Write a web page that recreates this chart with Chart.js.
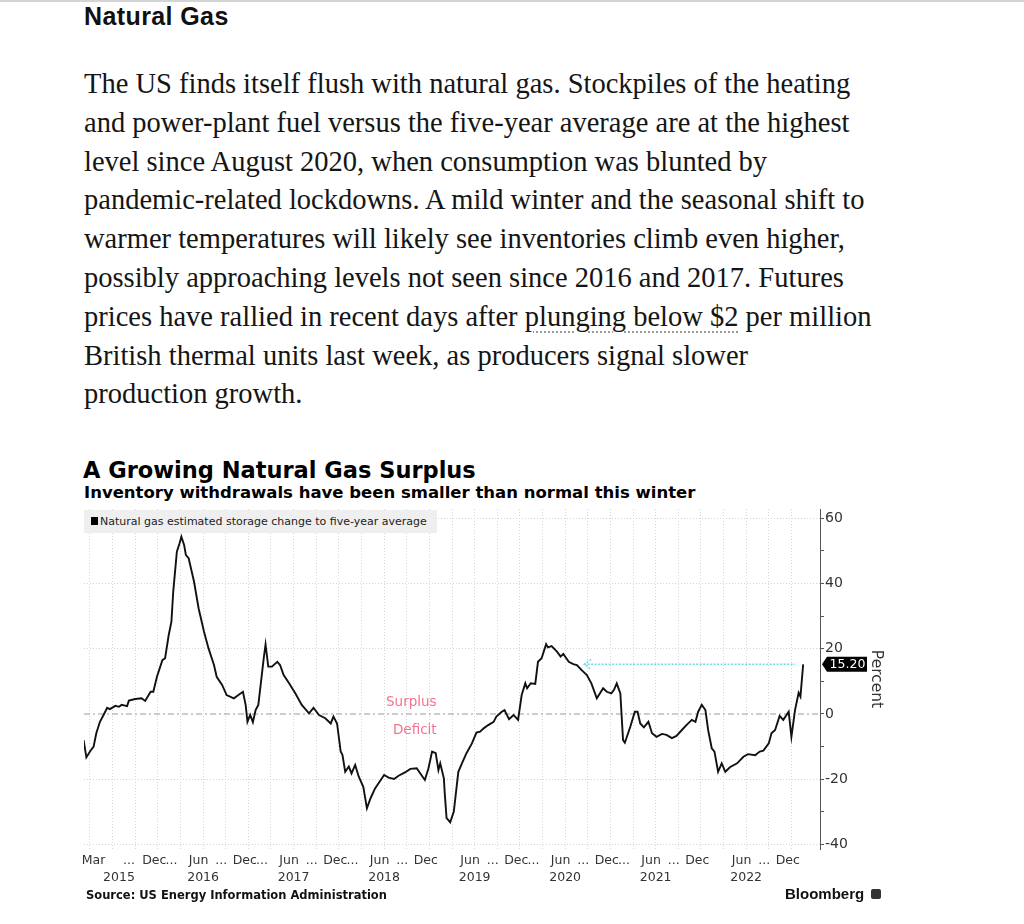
<!DOCTYPE html>
<html>
<head>
<meta charset="utf-8">
<script src="https://cdn.jsdelivr.net/npm/chart.js@4.4.1/dist/chart.umd.min.js"></script>
<style>
  body { margin: 0; background: #fff; }
  #page { position: relative; width: 1024px; height: 924px; overflow: hidden; background: #fff; }
  .abs { position: absolute; white-space: nowrap; }
  #topline { left: 0; top: 0; width: 1024px; height: 2px; background: #d4d4d4; }
  #kicker { left: 84px; top: 1px; font: bold 25px/30px "Liberation Sans", Arial, sans-serif; letter-spacing: 0.4px; color: #111; }
  #para { left: 84px; top: 65px; font: 28.5px/38.8px "Liberation Serif", serif; color: #151515; }
  #para .link { text-decoration: underline dotted #9a9a9a; text-decoration-thickness: 1.5px; text-underline-offset: 6px; }
  #ctitle { left: 83px; top: 457px; font: bold 22.5px/26px "DejaVu Sans", sans-serif; color: #000; }
  #csub { left: 84px; top: 483px; font: bold 16.5px/19px "DejaVu Sans", sans-serif; color: #000; }
  #wrap { left: 0; top: 505px; width: 1024px; height: 384px; }
  #legend { left: 84px; top: 510px; width: 353px; height: 23px; background: #efefef;
            font: 11px/23px "DejaVu Sans", sans-serif; color: #222; }
  #legend .sq { display: inline-block; width: 7px; height: 8px; background: #000; margin: 0 2px 0 7px; }
  #source { left: 86px; top: 888px; font: bold 11.5px/14px "DejaVu Sans", sans-serif; color: #111; }
  #brand { left: 785px; top: 885px; font: bold 15px/18px "Liberation Sans", Arial, sans-serif; color: #111; }
  #logo { left: 871px; top: 889px; width: 10px; height: 10px; background: #333; border-radius: 2px; }
</style>
</head>
<body>
<div id="page">
  <div id="topline" class="abs"></div>
  <div id="kicker" class="abs">Natural Gas</div>
  <div id="para" class="abs">The US finds itself flush with natural gas. Stockpiles of the heating<br>and power-plant fuel versus the five-year average are at the highest<br>level since August 2020, when consumption was blunted by<br>pandemic-related lockdowns. A mild winter and the seasonal shift to<br>warmer temperatures will likely see inventories climb even higher,<br>possibly approaching levels not seen since 2016 and 2017. Futures<br>prices have rallied in recent days after <span class="link">plunging below $2</span> per million<br>British thermal units last week, as producers signal slower<br>production growth.</div>
  <div id="ctitle" class="abs">A Growing Natural Gas Surplus</div>
  <div id="csub" class="abs">Inventory withdrawals have been smaller than normal this winter</div>
  <div id="wrap" class="abs"><canvas id="gasChart" width="1024" height="384"></canvas></div>
  <div id="legend" class="abs"><span class="sq"></span>Natural gas estimated storage change to five-year average</div>
  <div id="source" class="abs">Source: US Energy Information Administration</div>
  <div id="brand" class="abs">Bloomberg</div>
  <div id="logo" class="abs"></div>
</div>
<script>
// weekly readings, dates as decimal years
const weekDates = [
  2015.18, 2015.21, 2015.25, 2015.29, 2015.32, 2015.36, 2015.40, 2015.44, 2015.47, 2015.53,
  2015.57, 2015.60, 2015.66, 2015.68, 2015.75, 2015.82, 2015.86, 2015.92, 2015.95, 2015.99,
  2016.05, 2016.08, 2016.12, 2016.15, 2016.17, 2016.21, 2016.24, 2016.26, 2016.29, 2016.31,
  2016.34, 2016.40, 2016.45, 2016.51, 2016.56, 2016.62, 2016.65, 2016.71, 2016.76, 2016.84,
  2016.89, 2016.94, 2016.97, 2016.99, 2017.02, 2017.05, 2017.08, 2017.11, 2017.14, 2017.17,
  2017.19, 2017.22, 2017.26, 2017.32, 2017.35, 2017.39, 2017.45, 2017.52, 2017.59, 2017.67,
  2017.72, 2017.78, 2017.85, 2017.91, 2017.94, 2017.98, 2018.02, 2018.04, 2018.07, 2018.11,
  2018.14, 2018.18, 2018.22, 2018.27, 2018.31, 2018.35, 2018.40, 2018.50, 2018.55, 2018.61,
  2018.66, 2018.73, 2018.79, 2018.86, 2018.90, 2018.95, 2018.99, 2019.03, 2019.07, 2019.10,
  2019.12, 2019.16, 2019.17, 2019.19, 2019.21, 2019.23, 2019.27, 2019.32, 2019.36, 2019.41,
  2019.47, 2019.52, 2019.56, 2019.60, 2019.65, 2019.71, 2019.74, 2019.80, 2019.83, 2019.88,
  2019.93, 2019.98, 2020.02, 2020.06, 2020.08, 2020.12, 2020.17, 2020.20, 2020.24, 2020.29,
  2020.31, 2020.35, 2020.41, 2020.45, 2020.48, 2020.54, 2020.59, 2020.63, 2020.68, 2020.74,
  2020.79, 2020.85, 2020.92, 2020.96, 2021.01, 2021.04, 2021.07, 2021.11, 2021.14, 2021.16,
  2021.22, 2021.27, 2021.30, 2021.33, 2021.37, 2021.42, 2021.46, 2021.51, 2021.57, 2021.62,
  2021.68, 2021.73, 2021.79, 2021.84, 2021.90, 2021.94, 2021.97, 2022.01, 2022.05, 2022.08,
  2022.12, 2022.15, 2022.19, 2022.23, 2022.27, 2022.32, 2022.40, 2022.47, 2022.52, 2022.60,
  2022.65, 2022.69, 2022.75, 2022.78, 2022.82, 2022.87, 2022.91, 2022.97, 2023.00, 2023.04,
  2023.08, 2023.10, 2023.13
];
// storage vs five-year average, percent
const surplusPct = [
  -8.0, -13.3, -11.5, -10.0, -5.9, -2.4, -0.3, 1.9, 1.5, 2.5,
  2.2, 2.8, 2.4, 4.1, 4.6, 4.8, 4.0, 6.8, 6.8, 11.4,
  16.5, 17.1, 24.2, 28.3, 37.5, 49.7, 52.3, 54.3, 51.8, 48.7,
  47.7, 40.5, 32.4, 25.2, 20.1, 15.0, 11.4, 8.9, 5.8, 4.8,
  5.8, 6.8, 2.8, -2.4, -0.3, -2.5, 1.2, 2.8, 9.9, 17.1,
  21.3, 14.5, 14.5, 16.0, 15.0, 11.9, 9.4, 6.3, 2.8, 0.2,
  1.9, -0.3, -1.3, -2.9, -0.8, -2.9, -11.5, -12.6, -17.7, -16.1,
  -18.2, -15.6, -19.2, -22.3, -28.9, -25.8, -22.8, -18.7, -19.5, -19.9,
  -18.9, -17.9, -16.8, -16.6, -18.2, -20.2, -16.6, -11.5, -12.0, -17.2,
  -15.1, -19.7, -24.3, -31.9, -32.5, -33.2, -29.9, -17.7, -15.1, -12.0,
  -9.0, -5.7, -5.4, -4.4, -3.4, -2.4, -0.8, 0.7, 1.2, -1.6,
  -0.3, -1.8, 5.8, 9.4, 7.9, 9.4, 9.2, 16.0, 17.1, 21.4,
  20.4, 20.8, 19.1, 17.6, 18.4, 16.0, 15.3, 15.0, 13.5, 11.9,
  9.4, 4.8, 7.9, 6.8, 6.3, 7.4, 9.4, 6.3, -8.0, -8.8,
  -3.9, 0.7, 0.7, -2.9, -4.1, -2.4, -5.9, -7.0, -6.1, -6.4,
  -7.4, -6.7, -4.9, -3.4, -1.8, -2.4, 0.7, 2.8, 1.2, -4.9,
  -10.5, -11.5, -17.7, -15.1, -17.7, -16.3, -15.1, -13.1, -12.3, -12.6,
  -11.5, -11.2, -9.0, -5.9, -4.9, -0.6, -1.8, 0.7, -7.0, 1.2,
  6.5, 5.3, 15.2
];

const monthTickAt = [2015.29, 2015.68, 2015.96, 2016.15, 2016.45, 2016.70, 2016.96, 2017.15, 2017.45, 2017.70,
  2017.96, 2018.15, 2018.45, 2018.70, 2018.96, 2019.45, 2019.70, 2019.96, 2020.15, 2020.45,
  2020.70, 2020.96, 2021.15, 2021.45, 2021.70, 2021.96, 2022.45, 2022.70, 2022.96];
const monthTickText = ['Mar', '...', 'Dec', '...', 'Jun', '...', 'Dec', '...', 'Jun', '...',
  'Dec', '...', 'Jun', '...', 'Dec', 'Jun', '...', 'Dec', '...', 'Jun',
  '...', 'Dec', '...', 'Jun', '...', 'Dec', 'Jun', '...', 'Dec'];
const yearTickAt = [2015.57, 2016.5, 2017.5, 2018.5, 2019.5, 2020.5, 2021.5, 2022.5];
const yearTickText = ['2015', '2016', '2017', '2018', '2019', '2020', '2021', '2022'];
const yTickAt = [-40, -30, -20, -10, 0, 10, 20, 30, 40, 50, 60];

const zoneLabels = ['Surplus', 'Deficit'];
const zoneLabelY = [3.4, -5.2];
const zoneLabelAt = 2019.08;
const arrowFrom = 2020.71;
const arrowTo = 2023.04;

const xMin = 2015.184, xMax = 2023.316;
const yMin = -41.35, yMax = 62.79;
const latest = surplusPct[surplusPct.length - 1];

// quarter starts for the vertical grid
const quarterStarts = [];
for (let q = 2015.25; q <= 2023.001; q += 0.25) quarterStarts.push(q);

Chart.defaults.font.family = '"DejaVu Sans", sans-serif';

const annotations = {
  id: 'annotations',
  afterDatasetsDraw(chart) {
    const { ctx, scales: { x, y } } = chart;
    ctx.save();
    ctx.fillStyle = '#f27391';
    ctx.font = '13.5px "DejaVu Sans"';
    ctx.textAlign = 'right';
    ctx.textBaseline = 'middle';
    zoneLabels.forEach((t, i) => ctx.fillText(t, x.getPixelForValue(zoneLabelAt), y.getPixelForValue(zoneLabelY[i])));

    // arrow head on the cyan line
    const ax = x.getPixelForValue(arrowFrom), ay = y.getPixelForValue(latest);
    ctx.strokeStyle = '#6fdbe6';
    ctx.lineWidth = 1.5;
    ctx.setLineDash([2, 1.5]);
    ctx.beginPath();
    ctx.moveTo(ax + 7, ay - 5);
    ctx.lineTo(ax, ay);
    ctx.lineTo(ax + 7, ay + 5);
    ctx.stroke();
    ctx.restore();
  },
  afterDraw(chart) {
    // last value tag on the right axis
    const { ctx, chartArea, scales: { y } } = chart;
    const ty = y.getPixelForValue(latest);
    const x0 = chartArea.right + 2;
    ctx.save();
    ctx.fillStyle = '#000';
    ctx.beginPath();
    ctx.moveTo(x0, ty);
    ctx.lineTo(x0 + 5, ty - 7.5);
    ctx.lineTo(x0 + 45, ty - 7.5);
    ctx.lineTo(x0 + 45, ty + 7.5);
    ctx.lineTo(x0 + 5, ty + 7.5);
    ctx.closePath();
    ctx.fill();
    ctx.fillStyle = '#fff';
    ctx.font = '12.5px "DejaVu Sans"';
    ctx.textAlign = 'center';
    ctx.textBaseline = 'middle';
    ctx.fillText(latest.toFixed(2), x0 + 25.5, ty + 0.5);
    ctx.restore();
  }
};

const ctx = document.getElementById('gasChart').getContext('2d');
new Chart(ctx, {
  type: 'line',
  data: {
    datasets: [
      {
        label: 'Natural gas estimated storage change to five-year average',
        data: weekDates.map((d, i) => ({ x: d, y: surplusPct[i] })),
        borderColor: '#111',
        borderWidth: 1.9,
        pointRadius: 0,
        tension: 0
      },
      {
        label: 'zero',
        data: [{ x: xMin, y: 0 }, { x: xMax, y: 0 }],
        borderColor: '#9c9c9c',
        borderWidth: 1.2,
        borderDash: [6, 3, 2, 3],
        pointRadius: 0
      },
      {
        label: 'since Aug 2020',
        data: [{ x: arrowFrom, y: latest }, { x: arrowTo, y: latest }],
        borderColor: '#6fdbe6',
        borderWidth: 1.5,
        borderDash: [2, 1.5],
        pointRadius: 0
      }
    ]
  },
  options: {
    responsive: false,
    animation: false,
    devicePixelRatio: 1,
    layout: { padding: { top: 4, left: 84, right: 134, bottom: 0 } },
    plugins: { legend: { display: false }, tooltip: { enabled: false } },
    scales: {
      x: {
        type: 'linear', axis: 'x', position: 'bottom', weight: 0, min: xMin, max: xMax,
        afterBuildTicks: s => { s.ticks = quarterStarts.map(v => ({ value: v })); },
        afterFit: s => { s.height = 0; s.paddingLeft = 0; s.paddingRight = 0; },
        ticks: { display: false },
        grid: { color: '#d6d6d6', lineWidth: 1, drawTicks: false },
        border: { display: false, dash: [1, 2] }
      },
      xm: {
        type: 'linear', axis: 'x', position: 'bottom', weight: 1, min: xMin, max: xMax,
        afterBuildTicks: s => { s.ticks = monthTickAt.map(v => ({ value: v })); },
        afterFit: s => { s.height = 20; s.paddingLeft = 0; s.paddingRight = 0; },
        ticks: { autoSkip: false, maxRotation: 0, padding: 4, color: '#333', font: { size: 12.5 },
                 callback: (v, i) => monthTickText[i] },
        grid: { display: false, drawTicks: false },
        border: { display: false }
      },
      xy: {
        type: 'linear', axis: 'x', position: 'bottom', weight: 2, min: xMin, max: xMax,
        afterBuildTicks: s => { s.ticks = yearTickAt.map(v => ({ value: v })); },
        afterFit: s => { s.height = 20; s.paddingLeft = 0; s.paddingRight = 0; },
        ticks: { autoSkip: false, maxRotation: 0, padding: 1.5, color: '#333', font: { size: 12.5 },
                 callback: (v, i) => yearTickText[i] },
        grid: { display: false, drawTicks: false },
        border: { display: false }
      },
      y: {
        type: 'linear', position: 'right', min: yMin, max: yMax,
        afterBuildTicks: s => { s.ticks = yTickAt.map(v => ({ value: v })); },
        afterFit: s => { s.width = 70; s.paddingTop = 0; s.paddingBottom = 0; },
        ticks: { padding: 1, color: '#333', font: { size: 14 },
                 callback: v => (v % 20 === 0 ? String(v) : '') },
        grid: {
          color: c => (c.tick && c.tick.value % 20 === 0 && c.tick.value !== 0 ? '#d6d6d6' : 'rgba(0,0,0,0)'),
          tickColor: '#555', tickLength: 4, lineWidth: 1
        },
        border: { display: true, color: '#555', width: 1, dash: [1, 2] },
        title: { display: true, text: 'Percent', color: '#333', font: { size: 15.5 }, padding: { top: 5 } }
      }
    }
  },
  plugins: [annotations]
});
</script>
</body>
</html>
